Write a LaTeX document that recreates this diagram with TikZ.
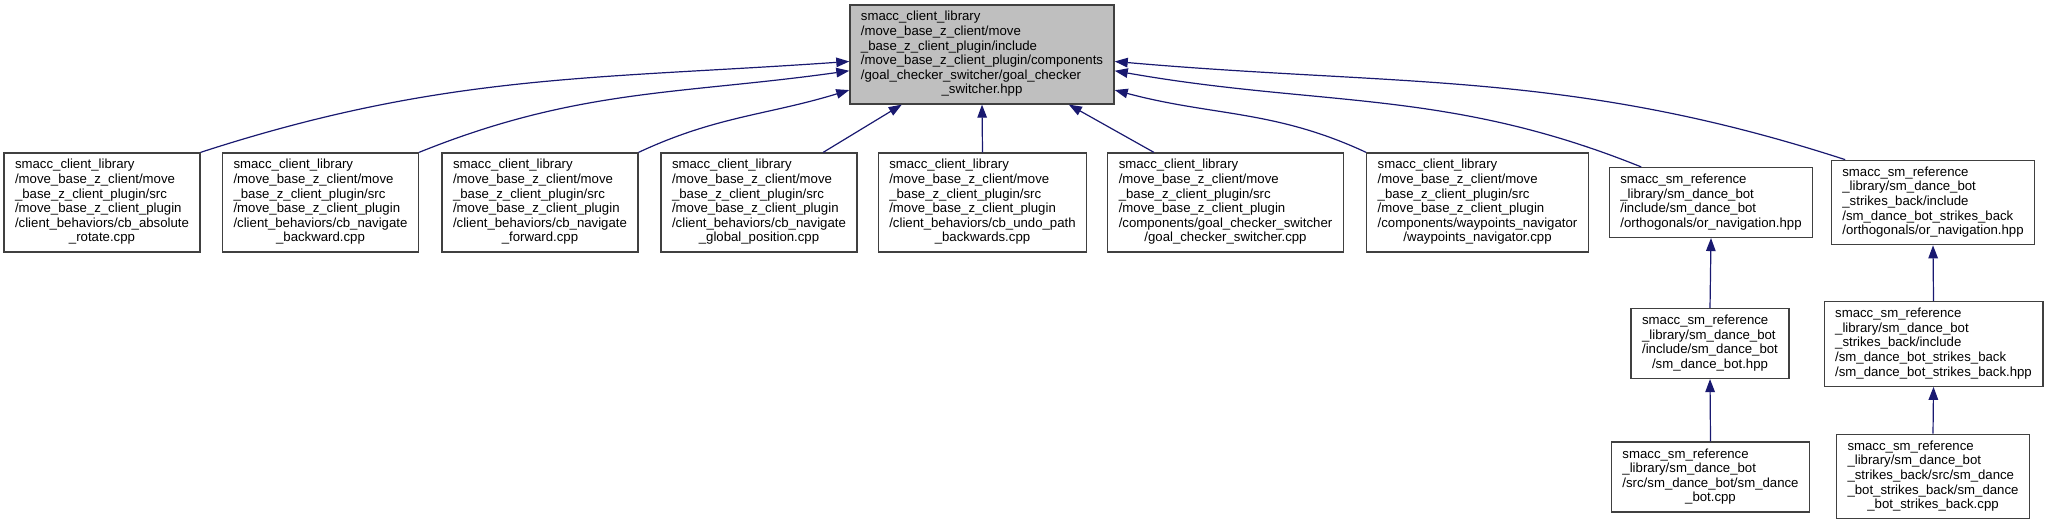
\documentclass[tikz,border=0pt]{standalone}
\usepackage{fontspec}
\setmainfont{Liberation Sans}
\usepackage{xcolor}
\usetikzlibrary{arrows.meta,positioning}
\definecolor{edgeblue}{HTML}{191970}
\definecolor{boxline}{HTML}{404040}
\definecolor{curfill}{HTML}{BFBFBF}
% left-set lines, last line centred (as doxygen does)
\newcommand{\lastln}[1]{\multicolumn{1}{@{}c@{}}{#1}}
\newcommand{\flbl}[1]{\begin{tabular}{@{}l@{}}#1\end{tabular}}
\tikzset{
  filebox/.style={draw=boxline,fill=white,line width=1.3pt,
                  inner xsep=11pt,inner ysep=5.7pt,
                  font=\fontsize{13.2}{14.6}\selectfont},
  curbox/.style={filebox,fill=curfill},
  dep/.style={-{Triangle[length=13pt,width=9.5pt]},draw=edgeblue,line width=1.2pt}
}

\begin{document}
\begin{tikzpicture}[x=1pt,y=1pt]
  \useasboundingbox (0,0) rectangle (2047,525);

  % the header itself
  \node[curbox] (hdr) at (982,470.5) {\flbl{smacc\_client\_library\\
    /move\_base\_z\_client/move\\
    \_base\_z\_client\_plugin/include\\
    /move\_base\_z\_client\_plugin/components\\
    /goal\_checker\_switcher/goal\_checker\\
    \lastln{\_switcher.hpp}}};

  % files that include it directly
  \node[filebox] (absrot) at (102,322.5) {\flbl{smacc\_client\_library\\
    /move\_base\_z\_client/move\\
    \_base\_z\_client\_plugin/src\\
    /move\_base\_z\_client\_plugin\\
    /client\_behaviors/cb\_absolute\\
    \lastln{\_rotate.cpp}}};
  \node[filebox] (navback) at (320.5,322.5) {\flbl{smacc\_client\_library\\
    /move\_base\_z\_client/move\\
    \_base\_z\_client\_plugin/src\\
    /move\_base\_z\_client\_plugin\\
    /client\_behaviors/cb\_navigate\\
    \lastln{\_backward.cpp}}};
  \node[filebox] (navfwd) at (540,322.5) {\flbl{smacc\_client\_library\\
    /move\_base\_z\_client/move\\
    \_base\_z\_client\_plugin/src\\
    /move\_base\_z\_client\_plugin\\
    /client\_behaviors/cb\_navigate\\
    \lastln{\_forward.cpp}}};
  \node[filebox] (navglob) at (759,322.5) {\flbl{smacc\_client\_library\\
    /move\_base\_z\_client/move\\
    \_base\_z\_client\_plugin/src\\
    /move\_base\_z\_client\_plugin\\
    /client\_behaviors/cb\_navigate\\
    \lastln{\_global\_position.cpp}}};
  \node[filebox] (undopath) at (982.5,322.5) {\flbl{smacc\_client\_library\\
    /move\_base\_z\_client/move\\
    \_base\_z\_client\_plugin/src\\
    /move\_base\_z\_client\_plugin\\
    /client\_behaviors/cb\_undo\_path\\
    \lastln{\_backwards.cpp}}};
  \node[filebox] (gcsw) at (1225.5,322.5) {\flbl{smacc\_client\_library\\
    /move\_base\_z\_client/move\\
    \_base\_z\_client\_plugin/src\\
    /move\_base\_z\_client\_plugin\\
    /components/goal\_checker\_switcher\\
    \lastln{/goal\_checker\_switcher.cpp}}};
  \node[filebox] (wpnav) at (1477.5,322.5) {\flbl{smacc\_client\_library\\
    /move\_base\_z\_client/move\\
    \_base\_z\_client\_plugin/src\\
    /move\_base\_z\_client\_plugin\\
    /components/waypoints\_navigator\\
    \lastln{/waypoints\_navigator.cpp}}};
  \node[filebox] (ornav) at (1711,322.5) {\flbl{smacc\_sm\_reference\\
    \_library/sm\_dance\_bot\\
    /include/sm\_dance\_bot\\
    /orthogonals/or\_navigation.hpp}};
  \node[filebox] (ornavsb) at (1933,322.5) {\flbl{smacc\_sm\_reference\\
    \_library/sm\_dance\_bot\\
    \_strikes\_back/include\\
    /sm\_dance\_bot\_strikes\_back\\
    /orthogonals/or\_navigation.hpp}};

  % indirect includers
  \node[filebox] (dancehpp) at (1710,181.5) {\flbl{smacc\_sm\_reference\\
    \_library/sm\_dance\_bot\\
    /include/sm\_dance\_bot\\
    \lastln{/sm\_dance\_bot.hpp}}};
  \node[filebox] (sbhpp) at (1933.5,181) {\flbl{smacc\_sm\_reference\\
    \_library/sm\_dance\_bot\\
    \_strikes\_back/include\\
    /sm\_dance\_bot\_strikes\_back\\
    /sm\_dance\_bot\_strikes\_back.hpp}};
  \node[filebox] (dancecpp) at (1710.5,48) {\flbl{smacc\_sm\_reference\\
    \_library/sm\_dance\_bot\\
    /src/sm\_dance\_bot/sm\_dance\\
    \lastln{\_bot.cpp}}};
  \node[filebox] (sbcpp) at (1933,48.5) {\flbl{smacc\_sm\_reference\\
    \_library/sm\_dance\_bot\\
    \_strikes\_back/src/sm\_dance\\
    \_bot\_strikes\_back/sm\_dance\\
    \lastln{\_bot\_strikes\_back.cpp}}};

  % include edges
  \draw[dep] (absrot.north east) to[out=18,in=184] (hdr.183.3);
  \draw[dep] (navback.north east) to[out=22,in=188] (hdr.187.7);
  \draw[dep] (navfwd.north east) to[out=25,in=197] (hdr.195.4);
  \draw[dep] (navglob.38) -- (hdr.212);
  \draw[dep] (undopath.north) -- (hdr.south);
  \draw[dep] (gcsw.145.5) -- (hdr.330);
  \draw[dep] (wpnav.north west) to[out=155,in=345] (hdr.345.9);
  \draw[dep] (ornav.153.8) to[out=158,in=350] (hdr.353.6);
  \draw[dep] (ornavsb.154.5) to[out=162,in=355] (hdr.357.6);
  \draw[dep] (dancehpp.north) -- (ornav.south);
  \draw[dep] (dancecpp.north) -- (dancehpp.south);
  \draw[dep] (sbhpp.north) -- (ornavsb.south);
  \draw[dep] (sbcpp.north) -- (sbhpp.south);
\end{tikzpicture}
\end{document}
